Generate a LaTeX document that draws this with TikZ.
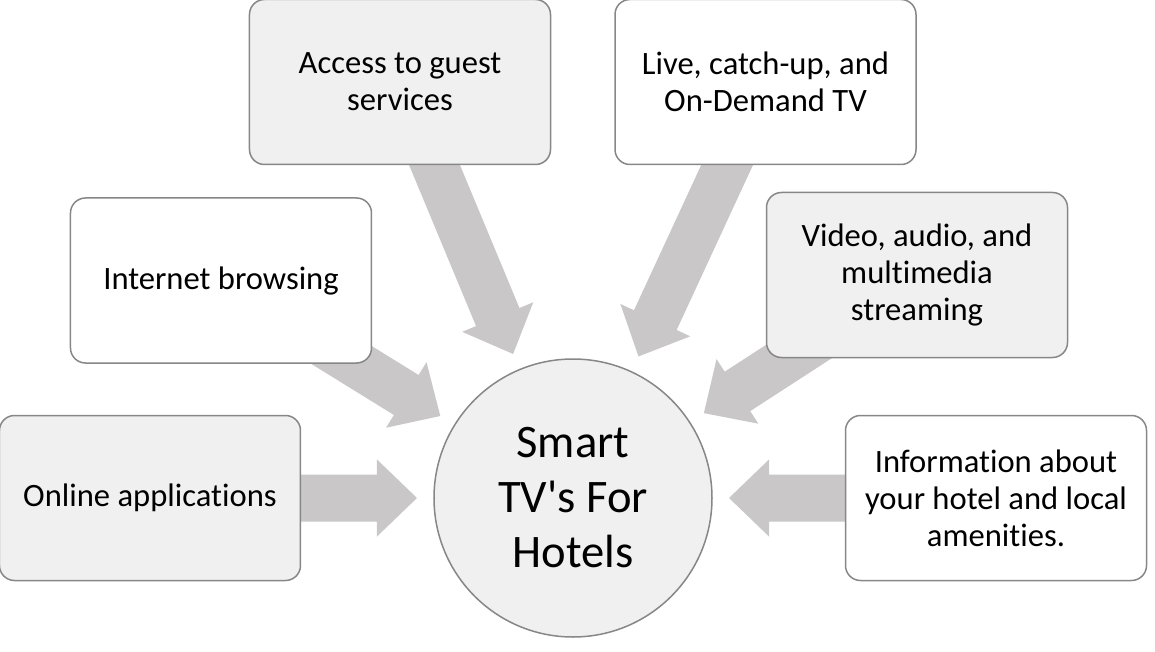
\documentclass[tikz,border=0pt]{standalone}
\usepackage{fontspec}
\setmainfont{Carlito}[Ligatures={TeXOff,NoCommon}]
\usetikzlibrary{positioning, calc, backgrounds}

\definecolor{arrowgray}{RGB}{201,199,200}
\definecolor{boxgray}{RGB}{240,240,240}
\definecolor{edgegray}{RGB}{135,135,135}

\begin{document}
\begin{tikzpicture}[
        box/.style={draw=edgegray, line width=1.5pt, rounded corners=15pt, fill=white, minimum width=301pt, minimum height=165pt, align=center, font=\fontsize{32.6}{37}\selectfont},
        hub/.style={circle, draw=edgegray, line width=1.5pt, fill=boxgray, minimum size=278pt, inner sep=0pt, align=center, font=\fontsize{46.6}{55}\selectfont}
    ]
        \useasboundingbox (-573pt,-153pt) rectangle (582pt,498pt);
        \node[hub] (hub) at (0,0) {Smart\\TV's For\\Hotels};
        \node[box, fill=boxgray, left=132pt of hub] (online) {Online applications};
        \node[box, right=132pt of hub] (info) {Information about\\your hotel and local\\amenities.};
        \node[box, left=61pt of hub, yshift=217.5pt] (web) {Internet browsing};
        \node[box, fill=boxgray, right=53pt of hub, yshift=223pt] (media) {Video, audio, and\\multimedia\\streaming};
        \node[box, fill=boxgray, above=193pt of hub, xshift=-173pt] (guest) {Access to guest\\services};
        \node[box, above=193pt of hub, xshift=192.5pt] (live) {Live, catch-up, and\\On-Demand TV};
        % block arrows behind the boxes, pointing at the hub
        \begin{scope}[on background layer]
            \foreach \src in {online, web, guest, live, media, info}
                \fill[arrowgray] let \p1 = ($(\src)-(hub)$), \n1 = {atan2(\y1,\x1)} in
                    ($(hub)+(\n1:156pt)$) -- ($(hub)+(\n1:196pt)+(\n1+90:38.5pt)$)
                    -- ($(hub)+(\n1:196pt)+(\n1+90:23.5pt)$) -- ($(\src)+(\n1+90:23.5pt)$)
                    -- ($(\src)+(\n1-90:23.5pt)$) -- ($(hub)+(\n1:196pt)+(\n1-90:23.5pt)$)
                    -- ($(hub)+(\n1:196pt)+(\n1-90:38.5pt)$) -- cycle;
        \end{scope}
    \end{tikzpicture}
\end{document}
